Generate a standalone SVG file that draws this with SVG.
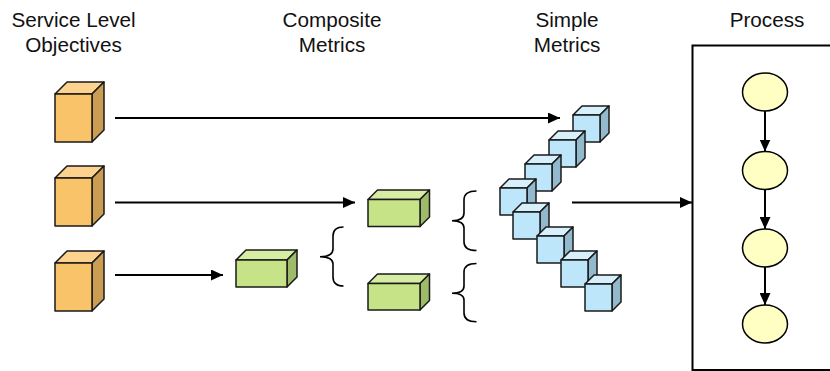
<svg xmlns="http://www.w3.org/2000/svg" width="830" height="371" viewBox="0 0 830 371">
  <style>
    .lbl { font-family: "Liberation Sans", Arial, sans-serif; font-size: 20.7px; fill: #111; text-anchor: middle; }
    .cube polygon, .cube rect { stroke: #1a1a1a; stroke-width: 1.5; stroke-linejoin: round; }
    .o .f { fill: #F9C36A; } .o .t { fill: #FCD38E; } .o .s { fill: #CB9D52; }
    .g .f { fill: #C6E487; } .g .t { fill: #D6EDA3; } .g .s { fill: #9DBB69; }
    .b .f { fill: #BEE6FA; } .b .t { fill: #D6F0FC; } .b .s { fill: #93B9CC; }
    .conn line { stroke: #000; stroke-width: 2; marker-end: url(#head); }
    .brace { fill: none; stroke: #000; stroke-width: 1.6; }
    .step { fill: #FFFFC4; stroke: #000; stroke-width: 1.5; }
    .frame { fill: #fff; stroke: #000; stroke-width: 2; }
  </style>
  <defs>
    <marker id="head" markerUnits="userSpaceOnUse" markerWidth="12" markerHeight="11" refX="12" refY="5.5" orient="auto">
      <path d="M0,0 L12,5.5 L0,11 z" fill="#000"/>
    </marker>
  </defs>

  <rect width="830" height="371" fill="#fff"/>

  <!-- column headings -->
  <g id="headings">
    <text class="lbl" x="73.5" y="27">Service Level</text>
    <text class="lbl" x="73.5" y="52">Objectives</text>
    <text class="lbl" x="332" y="27">Composite</text>
    <text class="lbl" x="332" y="52">Metrics</text>
    <text class="lbl" x="567" y="27">Simple</text>
    <text class="lbl" x="567" y="52">Metrics</text>
    <text class="lbl" x="767" y="27">Process</text>
  </g>

  <!-- process frame -->
  <g id="process">
    <rect class="frame" x="692.5" y="45.5" width="160" height="324.5"/>
    <ellipse id="step1" class="step" cx="765" cy="92" rx="22.5" ry="19"/>
    <ellipse id="step2" class="step" cx="765" cy="170.5" rx="22.5" ry="19"/>
    <ellipse id="step3" class="step" cx="765" cy="248" rx="22.5" ry="19"/>
    <ellipse id="step4" class="step" cx="765" cy="324" rx="22.5" ry="19"/>
  </g>

  <!-- service level objectives -->
  <g id="slo1" class="cube o">
    <polygon class="t" points="55,94 67,82 104,82 92,94"/>
    <polygon class="s" points="92,94 104,82 104,130 92,142"/>
    <rect class="f" x="55" y="94" width="37" height="48"/>
  </g>
  <g id="slo2" class="cube o">
    <polygon class="t" points="55,178 67,166 104,166 92,178"/>
    <polygon class="s" points="92,178 104,166 104,214 92,226"/>
    <rect class="f" x="55" y="178" width="37" height="48"/>
  </g>
  <g id="slo3" class="cube o">
    <polygon class="t" points="55,263 67,251 104,251 92,263"/>
    <polygon class="s" points="92,263 104,251 104,299 92,311"/>
    <rect class="f" x="55" y="263" width="37" height="48"/>
  </g>

  <!-- composite metrics -->
  <g id="cm0" class="cube g">
    <polygon class="t" points="236,260 246,250 297,250 287,260"/>
    <polygon class="s" points="287,260 297,250 297,277 287,287"/>
    <rect class="f" x="236" y="260" width="51" height="27"/>
  </g>
  <g id="cm1" class="cube g">
    <polygon class="t" points="368,199.5 377.5,190 429.5,190 420,199.5"/>
    <polygon class="s" points="420,199.5 429.5,190 429.5,217 420,226.5"/>
    <rect class="f" x="368" y="199.5" width="52" height="27"/>
  </g>
  <g id="cm2" class="cube g">
    <polygon class="t" points="368,283.5 377.5,274 429.5,274 420,283.5"/>
    <polygon class="s" points="420,283.5 429.5,274 429.5,300.5 420,310"/>
    <rect class="f" x="368" y="283.5" width="52" height="26.5"/>
  </g>

  <!-- braces -->
  <g id="braces">
    <path class="brace" d="M343.5,227 Q333,227 333,236 L333,249 Q333,256.7 320,256.7 Q333,256.7 333,264 L333,277 Q333,286 343.5,286"/>
    <path class="brace" d="M476.5,191 Q464,191 464,200 L464,213 Q464,220.7 452,220.7 Q464,220.7 464,228 L464,242 Q464,250.5 476.5,250.5"/>
    <path class="brace" d="M476.5,263.5 Q464,263.5 464,272 L464,286 Q464,293.3 452,293.3 Q464,293.3 464,300 L464,313 Q464,321.7 476.5,321.7"/>
  </g>

  <!-- simple metrics -->
  <g id="sm1" class="cube b">
    <polygon class="t" points="573,115 582,106 609,106 600,115"/>
    <polygon class="s" points="600,115 609,106 609,133 600,142"/>
    <rect class="f" x="573" y="115" width="27" height="27"/>
  </g>
  <g id="sm2" class="cube b">
    <polygon class="t" points="549,140 558,131 585,131 576,140"/>
    <polygon class="s" points="576,140 585,131 585,158 576,167"/>
    <rect class="f" x="549" y="140" width="27" height="27"/>
  </g>
  <g id="sm3" class="cube b">
    <polygon class="t" points="525,164 534,155 561,155 552,164"/>
    <polygon class="s" points="552,164 561,155 561,182 552,191"/>
    <rect class="f" x="525" y="164" width="27" height="27"/>
  </g>
  <g id="sm4" class="cube b">
    <polygon class="t" points="500,188 509,179 536,179 527,188"/>
    <polygon class="s" points="527,188 536,179 536,206 527,215"/>
    <rect class="f" x="500" y="188" width="27" height="27"/>
  </g>
  <g id="sm5" class="cube b">
    <polygon class="t" points="513,212 522,203 549,203 540,212"/>
    <polygon class="s" points="540,212 549,203 549,230 540,239"/>
    <rect class="f" x="513" y="212" width="27" height="27"/>
  </g>
  <g id="sm6" class="cube b">
    <polygon class="t" points="537,236 546,227 573,227 564,236"/>
    <polygon class="s" points="564,236 573,227 573,254 564,263"/>
    <rect class="f" x="537" y="236" width="27" height="27"/>
  </g>
  <g id="sm7" class="cube b">
    <polygon class="t" points="561,260 570,251 597,251 588,260"/>
    <polygon class="s" points="588,260 597,251 597,278 588,287"/>
    <rect class="f" x="561" y="260" width="27" height="27"/>
  </g>
  <g id="sm8" class="cube b">
    <polygon class="t" points="585,284 594,275 621,275 612,284"/>
    <polygon class="s" points="612,284 621,275 621,302 612,311"/>
    <rect class="f" x="585" y="284" width="27" height="27"/>
  </g>

  <!-- connectors -->
  <g id="connectors" class="conn">
    <line x1="115" y1="118" x2="560" y2="118"/>
    <line x1="115" y1="202.5" x2="355" y2="202.5"/>
    <line x1="115" y1="275" x2="223" y2="275"/>
    <line x1="572" y1="202.5" x2="692" y2="202.5"/>
    <line x1="765" y1="111" x2="765" y2="151.5"/>
    <line x1="765" y1="189.5" x2="765" y2="229"/>
    <line x1="765" y1="267" x2="765" y2="305"/>
  </g>
</svg>
